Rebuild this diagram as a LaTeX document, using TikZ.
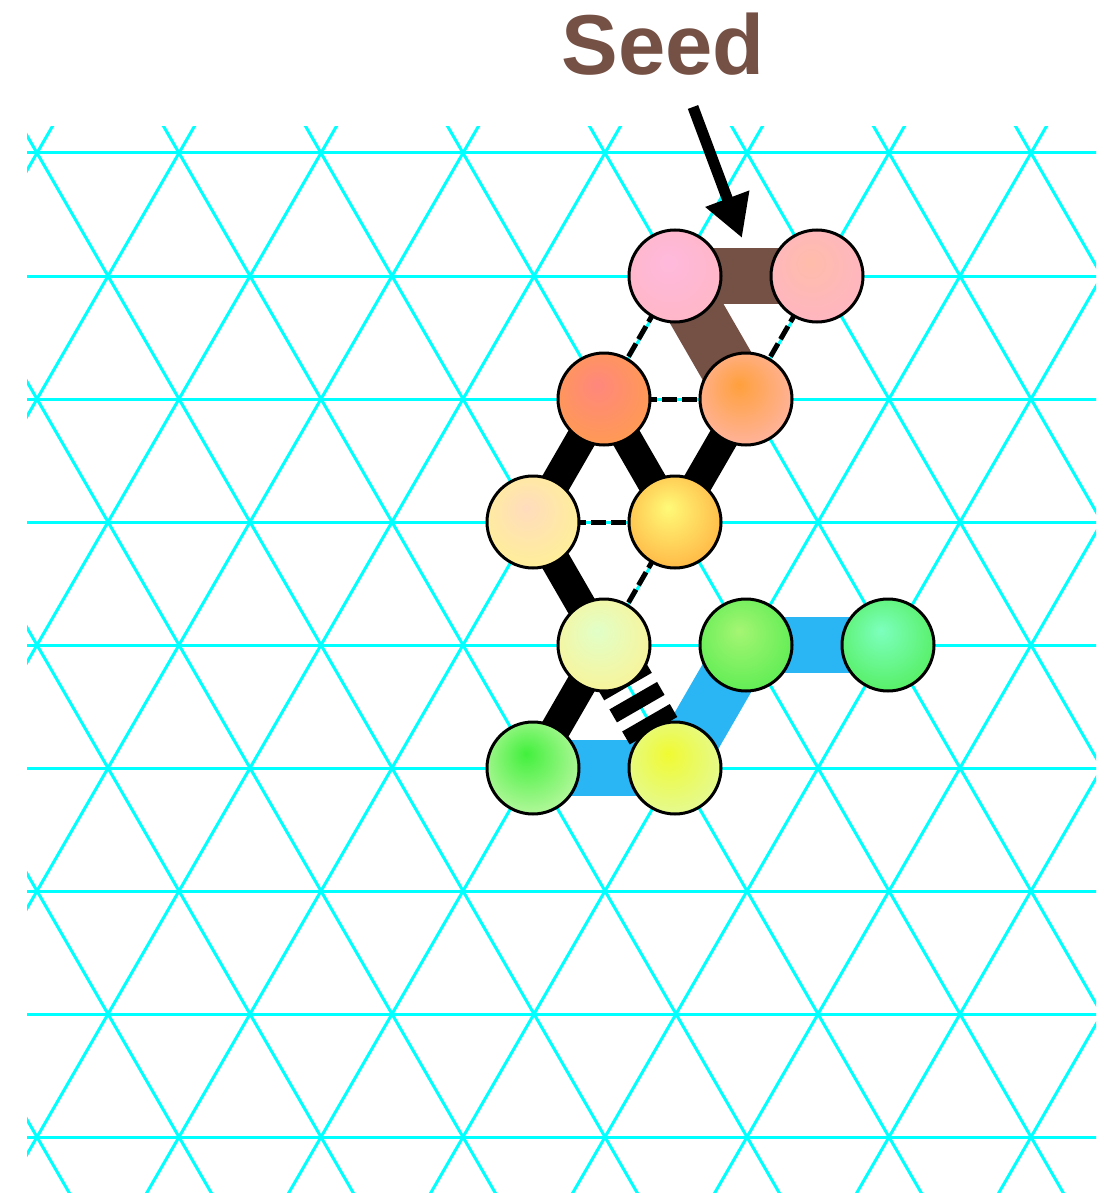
\documentclass[tikz,border=0pt]{standalone}
\usepackage{fontspec}
\newfontfamily\seedfont{Liberation Sans}
\usetikzlibrary{arrows.meta}
\pgfdeclarelayer{gridlayer}
\pgfdeclarelayer{bondlayer}
\pgfsetlayers{gridlayer,bondlayer,main}
\definecolor{gridcyan}{RGB}{0,255,255}
\definecolor{seedbrown}{RGB}{117,80,68}
\definecolor{bondblue}{RGB}{42,181,245}
\definecolor{in1}{RGB}{255,185,220}\definecolor{out1}{RGB}{255,182,193}
\definecolor{in2}{RGB}{255,188,170}\definecolor{out2}{RGB}{255,180,200}
\definecolor{in3}{RGB}{255,135,125}\definecolor{out3}{RGB}{255,160,70}
\definecolor{in4}{RGB}{255,160,60}\definecolor{out4}{RGB}{255,185,185}
\definecolor{in5}{RGB}{255,220,190}\definecolor{out5}{RGB}{255,245,140}
\definecolor{in6}{RGB}{255,250,120}\definecolor{out6}{RGB}{255,165,55}
\definecolor{in7}{RGB}{225,255,200}\definecolor{out7}{RGB}{255,240,140}
\definecolor{in8}{RGB}{165,245,115}\definecolor{out8}{RGB}{75,235,75}
\definecolor{in9}{RGB}{125,255,190}\definecolor{out9}{RGB}{75,235,75}
\definecolor{in10}{RGB}{65,240,60}\definecolor{out10}{RGB}{215,250,185}
\definecolor{in11}{RGB}{240,250,50}\definecolor{out11}{RGB}{225,250,175}
\colorlet{ballin}{white}\colorlet{ballout}{white}
\pgfdeclareradialshading[ballin,ballout]{nodeball}{\pgfpoint{-4bp}{8bp}}{color(0bp)=(ballin); color(38bp)=(ballout); color(50bp)=(ballout)}
\begin{document}
\begin{tikzpicture}[x=1pt,y=-1pt,
  gridline/.style={gridcyan, line width=3pt},
  atom/.style 2 args={circle, draw=black, line width=3pt, inner sep=0pt, minimum size=92pt,
    shade, shading=nodeball, /utils/exec={\colorlet{ballin}{#1}\colorlet{ballout}{#2}}},
  seedbond/.style={seedbrown, line width=56pt},
  bluebond/.style={bondblue, line width=56pt},
  blackbond/.style={black, line width=30pt},
  weakbond/.style={black, line width=5pt, dash pattern=on 15pt off 5pt, dash phase=2pt},
  brokenbond/.style={black, line width=55pt, dash pattern=on 15pt off 10.5pt, dash phase=18pt}]
\useasboundingbox (0,0) rectangle (1113,1193);
\begin{pgfonlayer}{gridlayer}
\clip (27,127) rectangle (1096,1193);
\foreach \k in {0,...,8} \draw[gridline] (0,{153+123*\k}) -- (1113,{153+123*\k});
\foreach \n in {-12,...,14} {
  \draw[gridline] ({37+142*\n-142},-93) -- ++(852,1476);
  \draw[gridline] ({37+142*\n+142},-93) -- ++(-852,1476);
}
\end{pgfonlayer}
% atoms
\node[atom={in1}{out1}] (n1) at (675,276) {};
\node[atom={in2}{out2}] (n2) at (817,276) {};
\node[atom={in3}{out3}] (n3) at (604,399) {};
\node[atom={in4}{out4}] (n4) at (746,399) {};
\node[atom={in5}{out5}] (n5) at (533,522) {};
\node[atom={in6}{out6}] (n6) at (675,522) {};
\node[atom={in7}{out7}] (n7) at (604,645) {};
\node[atom={in8}{out8}] (n8) at (746,645) {};
\node[atom={in9}{out9}] (n9) at (888,645) {};
\node[atom={in10}{out10}] (n10) at (533,768) {};
\node[atom={in11}{out11}] (n11) at (675,768) {};
\begin{pgfonlayer}{bondlayer}
\draw[weakbond] (n1.center) -- (n3.center);
\draw[weakbond] (n2.center) -- (n4.center);
\draw[weakbond] (n3.center) -- (n4.center);
\draw[weakbond] (n5.center) -- (n6.center);
\draw[weakbond] (n6.center) -- (n7.center);
\draw[seedbond] (n1.center) -- (n2.center);
\draw[seedbond] (n1.center) -- (n4.center);
\draw[blackbond] (n3.center) -- (n5.center);
\draw[blackbond] (n3.center) -- (n6.center);
\draw[blackbond] (n4.center) -- (n6.center);
\draw[blackbond] (n5.center) -- (n7.center);
\draw[blackbond] (n7.center) -- (n10.center);
\draw[bluebond] (n10.center) -- (n11.center);
\draw[bluebond] (n11.center) -- (n8.center);
\draw[bluebond] (n8.center) -- (n9.center);
\draw[brokenbond] (n7.center) -- (n11.center);
\end{pgfonlayer}
% label and arrow
\node[seedbrown, anchor=base, font=\seedfont\bfseries\fontsize{85}{90}\selectfont, inner sep=0pt] (seed) at (663,75) {Seed};
\coordinate (arrowtail) at (693,107);
\coordinate (arrowtip) at (742,238);
\draw[line width=11pt, -{Triangle[length=42pt,width=44pt]}] (arrowtail) -- (arrowtip);
\end{tikzpicture}
\end{document}
